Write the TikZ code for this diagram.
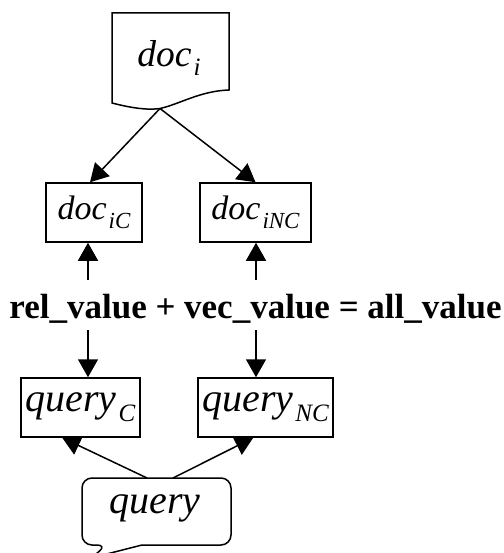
\documentclass[tikz,border=0pt]{standalone}
\usepackage{fontspec}
\setmainfont{Liberation Serif}
\usetikzlibrary{arrows.meta}
\newcommand{\lowidx}[3]{\hspace{2pt}\raisebox{#1}{\fontsize{#2}{#2}\selectfont #3}}

\begin{document}
\begin{tikzpicture}[
  x=1pt, y=-1pt,
  every node/.style={inner sep=0pt},
  box/.style={draw, fill=white, line width=1.5pt, minimum height=59pt},
  link/.style={line width=1.5pt, -{Triangle[width=20pt,length=18pt]}},
  outline/.style={line width=1.5pt},
  doctext/.style={font=\fontsize{34}{38}\selectfont\itshape},
  qtext/.style={font=\fontsize{40}{44}\selectfont\itshape}
]
  \useasboundingbox (0,0) rectangle (503,553);

  % source document
  \draw[outline] (112,13) -- (229,13) -- (229,90)
    .. controls (200,91) and (180,104) .. (160,108.5)
    .. controls (150,110) and (135,109) .. (112,103) -- cycle;
  \node[font=\fontsize{37.5}{40}\selectfont\itshape] (doci) at (169,58)
    {doc\lowidx{-9pt}{25}{i}};
  \coordinate (fork) at (160,108.5);

  % split documents
  \node[box, minimum width=96pt, doctext] (docC) at (94,212.5)
    {doc\lowidx{-9pt}{23}{iC}};
  \node[box, minimum width=111pt, doctext] (docNC) at (255.5,212.5)
    {doc\lowidx{-9pt}{23}{iNC}};

  % score
  \node[anchor=base, font=\fontsize{35}{38}\selectfont\bfseries] (score) at (255.5,318)
    {rel\_value + vec\_value = all\_value};

  % split queries
  \node[box, minimum width=119pt, qtext] (queryC) at (80.5,407.5)
    {query\lowidx{-10pt}{25}{C}};
  \node[box, minimum width=135pt, qtext] (queryNC) at (265.5,407.5)
    {query\lowidx{-10pt}{25}{NC}};

  % query callout
  \draw[outline] (142,545) [rounded corners=10pt] -- (231,545) -- (231,478)
    -- (82,478) -- (82,545) -- (107,545) [sharp corners] -- (91,558) -- cycle;
  \node[qtext] (query) at (155,508) {query};

  \coordinate (upC) at (88,280);
  \coordinate (upNC) at (256,280);
  \coordinate (downC) at (88,330);
  \coordinate (downNC) at (256,330);

  \draw[link] (fork) -- ([xshift=-4pt]docC.north);
  \draw[link] (fork) -- (docNC.north);
  \draw[link] (upC) -- (upC |- docC.south);
  \draw[link] (upNC) -- (upNC |- docNC.south);
  \draw[link] (downC) -- (downC |- queryC.north);
  \draw[link] (downNC) -- (downNC |- queryNC.north);
  \draw[link] ([xshift=-8pt]query.north |- 0,478) -- ([xshift=42pt]queryC.south west);
  \draw[link] ([xshift=18pt]query.north |- 0,478) -- ([xshift=56pt]queryNC.south west);
\end{tikzpicture}
\end{document}
